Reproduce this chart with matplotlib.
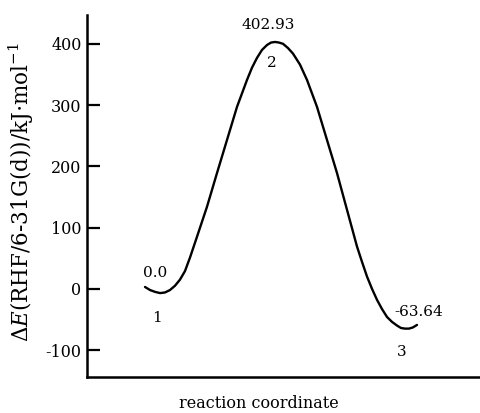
import matplotlib
matplotlib.use("Agg")
import matplotlib.pyplot as plt

# reaction coordinate (arbitrary units) and energy
coord = [58, 63, 68, 73, 78, 83, 88, 93, 98, 103, 110, 120, 130, 140, 150,
         160, 165, 170, 175, 180, 184, 188, 192, 196, 201, 206, 213, 220, 230,
         240, 250, 260, 270, 275, 280, 285, 290, 295, 300, 305, 310, 314, 318,
         322, 326, 330]
energy = [3, -2, -5, -7, -6, -2, 5, 15, 29, 51, 85, 134, 189, 243, 297,
          341, 361, 377, 390, 398, 402, 403, 402, 400, 393, 384, 366, 341, 297,
          243, 189, 129, 69, 44, 20, 0, -18, -33, -46, -54, -60, -64, -65,
          -65, -63, -59]

# stationary points: number, energy label
point_ids = ["1", "2", "3"]
point_vals = ["0.0", "402.93", "-63.64"]
val_pos = [(68, 26), (181, 431), (332, -38)]
id_pos = [(70, -47), (185, 369), (315, -104)]

yticks = [-100, 0, 100, 200, 300, 400]

plt.rcParams['font.family'] = ['DejaVu Serif']
plt.rcParams['mathtext.fontset'] = 'dejavuserif'
plt.rcParams['axes.unicode_minus'] = False

fig = plt.figure(figsize=(4.81, 4.13), dpi=100)
ax = fig.add_axes([87 / 481, 36 / 413, 1 - 87 / 481, 362 / 413])

ax.plot(coord, energy, color='black', lw=1.7, solid_capstyle='round',
        solid_joinstyle='round')

for s, (x, y) in zip(point_vals, val_pos):
    ax.text(x, y, s, ha='center', va='center', fontsize=11)
for s, (x, y) in zip(point_ids, id_pos):
    ax.text(x, y, s, ha='center', va='center', fontsize=11)

ax.set_xlim(0, 394)
ax.set_ylim(-144, 447)
ax.set_yticks(yticks)
ax.set_xticks([])
ax.tick_params(axis='y', direction='in', length=9, width=1.6, pad=4, labelsize=11.5)
for side in ['top', 'right']:
    ax.spines[side].set_visible(False)
for side in ['left', 'bottom']:
    ax.spines[side].set_linewidth(1.8)

ax.set_ylabel(r'$\Delta\mathit{E}$(RHF/6-31G(d))/kJ$\cdot$mol$^{-1}$', fontsize=15.5)
ax.yaxis.set_label_coords(-0.13, 0.51)
fig.text(259 / 481, 1 - 403 / 413, 'reaction coordinate', ha='center', va='center', fontsize=11.5)

fig.savefig('out.png', dpi=100)
